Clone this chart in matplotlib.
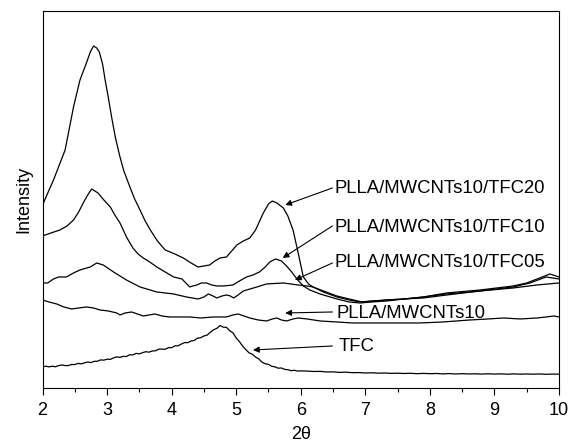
import numpy as np
import matplotlib
matplotlib.use('Agg')
import matplotlib.pyplot as plt
from matplotlib.ticker import MultipleLocator

plt.rcParams['font.family'] = ['Liberation Sans', 'DejaVu Sans']

# XRD patterns, intensity in arbitrary units
tfc20_x = [2.00, 2.17, 2.35, 2.48, 2.58, 2.68, 2.74, 2.79, 2.84, 2.88, 2.93, 2.97, 3.02, 3.07,
           3.13, 3.20, 3.26, 3.33, 3.42, 3.51, 3.59, 3.67, 3.78, 3.90, 4.05, 4.18, 4.30, 4.41,
           4.50, 4.59, 4.67, 4.75, 4.85, 4.93, 5.01, 5.11, 5.21, 5.30, 5.42, 5.50, 5.56, 5.63,
           5.73, 5.80, 5.88, 5.95, 6.04, 6.12, 6.19, 6.35, 6.56, 6.75, 6.92, 7.10, 7.33, 7.60,
           7.90, 8.26, 8.78, 9.29, 9.50, 9.66, 9.86, 10.00]
tfc20_y = [183, 208, 238, 281, 308, 325, 336, 342, 340, 336, 324, 308, 290, 271,
           250, 231, 217, 205, 190, 178, 167, 158, 147, 138, 134, 130, 125, 121,
           122, 123, 127, 130, 131, 137, 143, 147, 150, 158, 175, 184, 187, 185,
           180, 172, 158, 138, 111, 104, 101, 96, 91, 88, 86, 87, 88, 89,
           91, 95, 98, 102, 105, 109, 114, 111]

tfc10_x = [2.00, 2.13, 2.27, 2.38, 2.48, 2.56, 2.63, 2.70, 2.76, 2.81, 2.86, 2.95, 3.05, 3.12,
           3.20, 3.30, 3.40, 3.48, 3.56, 3.66, 3.77, 3.90, 4.03, 4.16, 4.22, 4.28, 4.33, 4.39,
           4.46, 4.54, 4.62, 4.70, 4.80, 4.95, 5.05, 5.16, 5.26, 5.36, 5.45, 5.52, 5.61, 5.70,
           5.78, 5.86, 5.94, 6.04, 6.14, 6.30, 6.56, 6.75, 6.92, 7.10, 7.33, 7.60, 7.90, 8.26,
           8.78, 9.29, 9.55, 9.80, 10.00]
tfc10_y = [152, 155, 158, 162, 168, 176, 185, 193, 199, 197, 195, 188, 181, 173,
           165, 151, 140, 134, 130, 126, 121, 116, 111, 109, 105, 101, 102, 103,
           105, 105, 103, 102, 102, 103, 107, 111, 113, 116, 121, 126, 129, 127,
           122, 116, 109, 102, 98, 94, 89, 86, 85, 86, 87, 89, 91, 94,
           97, 101, 105, 111, 109]

tfc05_x = [2.00, 2.08, 2.17, 2.25, 2.37, 2.48, 2.58, 2.74, 2.84, 2.94, 3.10, 3.30, 3.51, 3.77,
           4.03, 4.23, 4.41, 4.50, 4.57, 4.64, 4.70, 4.78, 4.85, 4.91, 4.96, 5.03, 5.11, 5.32,
           5.47, 5.73, 5.96, 6.10, 6.19, 6.35, 6.56, 6.75, 6.95, 7.15, 7.33, 7.60, 7.90, 8.26,
           8.78, 9.29, 9.66, 10.00]
tfc05_y = [105, 105, 109, 111, 111, 115, 118, 121, 125, 123, 116, 108, 101, 96,
           94, 91, 89, 91, 94, 92, 90, 92, 93, 92, 90, 93, 97, 101,
           104, 105, 103, 102, 101, 97, 92, 89, 86, 87, 88, 89, 90, 93,
           97, 100, 103, 105]

mwcnt_x = [2.00, 2.10, 2.22, 2.33, 2.45, 2.56, 2.68, 2.79, 2.89, 3.02, 3.15, 3.20, 3.28, 3.38,
           3.47, 3.56, 3.65, 3.74, 3.85, 3.97, 4.12, 4.28, 4.45, 4.65, 4.85, 4.95, 5.03, 5.12,
           5.21, 5.34, 5.47, 5.56, 5.63, 5.70, 5.78, 5.88, 5.96, 6.10, 6.30, 6.56, 6.80, 7.07,
           7.40, 7.84, 8.20, 8.62, 8.90, 9.14, 9.40, 9.66, 9.80, 9.92, 10.00]
mwcnt_y = [88, 86, 84, 81, 79, 80, 81, 80, 78, 77, 75, 73, 75, 76,
           74, 72, 73, 74, 72, 71, 71, 71, 70, 71, 71, 73, 74, 72,
           70, 68, 67, 69, 70, 68, 67, 69, 70, 69, 67, 66, 65, 65,
           65, 65, 66, 68, 69, 70, 69, 70, 71, 72, 71]

# TFC scan: 0.05 deg steps up to 6, 0.1 deg steps after
tfc_x = np.round(np.r_[np.arange(2.0, 6.001, 0.05), np.arange(6.1, 10.001, 0.1)], 2)
tfc_y = [21.0, 21.8, 21.1, 21.8, 21.2, 22.4, 23.0, 22.4, 22.4, 23.5,
         23.4, 24.6, 24.1, 25.1, 26.0, 25.4, 26.7, 26.7, 28.1, 27.8,
         28.8, 28.6, 30.1, 31.1, 30.6, 31.6, 31.5, 33.2, 33.1, 34.6,
         34.1, 35.3, 36.3, 35.8, 37.0, 37.2, 38.8, 38.9, 38.7, 40.3,
         40.3, 42.1, 42.2, 43.9, 45.4, 45.3, 47.0, 47.5, 49.8, 50.3,
         52.0, 52.9, 55.8, 58.2, 59.6, 62.5, 60.8, 60.6, 57.2, 55.2,
         50.0, 46.4, 41.8, 38.3, 35.1, 33.8, 30.9, 29.1, 25.8, 24.2,
         23.6, 21.7, 21.1, 19.8, 20.0, 18.6, 18.3, 17.3, 17.7, 16.9,
         17.1,
         16.9, 16.5, 16.6, 16.0, 16.1, 15.6, 15.8, 15.3, 15.4, 15.0,
         15.2, 14.8, 15.0, 14.6, 14.8, 14.5, 14.7, 14.3, 14.6, 14.3,
         14.5, 14.1, 14.4, 14.0, 14.3, 14.0, 14.2, 13.9, 14.2, 13.9,
         14.1, 13.8, 14.1, 13.8, 14.0, 13.8, 14.0, 13.7, 13.9, 13.8]

labels = ['PLLA/MWCNTs10/TFC20', 'PLLA/MWCNTs10/TFC10', 'PLLA/MWCNTs10/TFC05',
          'PLLA/MWCNTs10', 'TFC']
# label text position, arrow tail, arrow head (data coords)
text_pos = [(6.53, 199), (6.53, 160), (6.53, 125), (6.56, 74), (6.58, 41)]
tails = [(6.49, 200), (6.49, 162), (6.49, 125), (6.49, 76), (6.49, 42)]
heads = [(5.76, 183), (5.72, 130), (5.91, 108), (5.76, 75), (5.26, 38)]

fig = plt.figure(figsize=(5.7, 4.43), dpi=100)
ax = fig.add_axes([0.0746, 0.1242, 0.9061, 0.851])

for xs, ys in [(tfc20_x, tfc20_y), (tfc10_x, tfc10_y), (tfc05_x, tfc05_y),
               (mwcnt_x, mwcnt_y), (tfc_x, tfc_y)]:
    ax.plot(xs, ys, color='black', lw=0.9)

for lab, tp, tl, hd in zip(labels, text_pos, tails, heads):
    ax.annotate('', xy=hd, xytext=tl,
                arrowprops=dict(arrowstyle='-|>', color='black', lw=0.8,
                                mutation_scale=9, shrinkA=0, shrinkB=0))
    ax.text(tp[0], tp[1], lab, ha='left', va='center', fontsize=13.3)

ax.set_xlim(2, 10)
ax.set_ylim(0, 377)
ax.xaxis.set_major_locator(MultipleLocator(1))
ax.xaxis.set_minor_locator(MultipleLocator(0.5))
ax.tick_params(axis='x', which='major', direction='out', length=5, width=0.8,
               labelsize=13, pad=5)
ax.tick_params(axis='x', which='minor', direction='out', length=3, width=0.8)
ax.set_yticks([])
for sp in ax.spines.values():
    sp.set_linewidth(0.8)

ax.set_xlabel('2θ', fontsize=13, labelpad=5)
ax.set_ylabel('Intensity', fontsize=13, labelpad=7)

fig.savefig('out.png', dpi=100)
